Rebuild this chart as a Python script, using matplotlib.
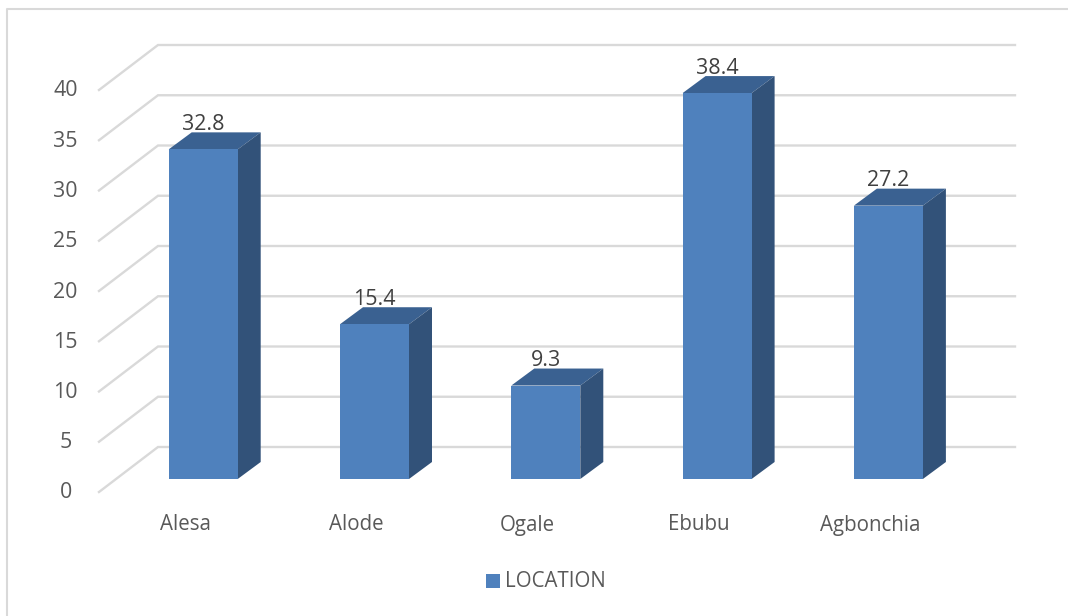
import matplotlib
matplotlib.use("Agg")
import matplotlib.pyplot as plt
from matplotlib.patches import Polygon

categories = ["Alesa", "Alode", "Ogale", "Ebubu", "Agbonchia"]
values = [32.8, 15.4, 9.3, 38.4, 27.2]
y_ticks = [0, 5, 10, 15, 20, 25, 30, 35, 40]
series_name = "LOCATION"

W, H = 1068, 616
FRONT = "#4F81BD"
TOP = "#3A6191"
SIDE = "#325279"
GRID = "#D9D9D9"
TEXT = "#595959"
LABEL = "#404040"
FONT_SIZE = 14.8
VALUE_FONT_SIZE = 15.4

plt.rcParams["font.family"] = "Open Sans"

fig = plt.figure(figsize=(W / 100, H / 100), dpi=100)
ax = fig.add_axes([0, 0, 1, 1])
ax.axis("off")

# Scale: one category step is 171.3 px, one value unit is 10.05 px.
PX_X, PX_Y = 171.3, 10.05
X0, Y0 = 203.2, 479
ax.set_xlim(-X0 / PX_X, (W - X0) / PX_X)
ax.set_ylim(-(H - Y0) / PX_Y, Y0 / PX_Y)


def ox(px):
    return px / PX_X


def oy(px):
    return px / PX_Y


# Chart frame
ax.plot([ox(7 - X0), ox(7 - X0), ox(W - X0)],
        [oy(Y0 - H), oy(Y0 - 9), oy(Y0 - 9)],
        color=GRID, lw=1.5, solid_capstyle="butt", zorder=1)

# Floor and back-wall gridlines with their receding left segment
for v in y_ticks:
    xs = [ox(99 - X0), ox(158 - X0), ox(1015 - X0)]
    ys = [v + oy(-13), v + oy(32), v + oy(32)]
    ax.plot(xs, ys, color=GRID, lw=1.7, solid_joinstyle="miter", zorder=2)
    ax.text(ox(65.5 - X0), v + oy(-14), str(v), ha="center", va="center",
            fontsize=VALUE_FONT_SIZE, color=TEXT, zorder=5)

# Three-faced columns
half = ox(34.5)
dx, dy = ox(23), oy(17)
for i, (name, v) in enumerate(zip(categories, values)):
    l, r = i - half, i + half
    ax.add_patch(Polygon([(l, v), (r, v), (r + dx, v + dy), (l + dx, v + dy)],
                         facecolor=TOP, edgecolor="none", zorder=3))
    ax.add_patch(Polygon([(r, 0), (r + dx, dy), (r + dx, v + dy), (r, v)],
                         facecolor=SIDE, edgecolor="none", zorder=3))
    ax.bar(i, v, width=2 * half, color=FRONT, zorder=4)
    ax.text(i, v + oy(25), f"{v}", ha="center", va="center",
            fontsize=VALUE_FONT_SIZE, color=LABEL, zorder=6)
    ax.text(i - ox(18), oy(-46), name, ha="center", va="center",
            fontsize=FONT_SIZE, color=TEXT, zorder=5)

# Legend
ax.bar(ox(492.5 - X0), oy(14), width=ox(14), bottom=oy(Y0 - 588),
       color=FRONT, zorder=5)
ax.text(ox(505 - X0), oy(Y0 - 581.5), series_name, ha="left", va="center",
        fontsize=FONT_SIZE, color=TEXT, zorder=5)

fig.savefig("out.png", dpi=100)
